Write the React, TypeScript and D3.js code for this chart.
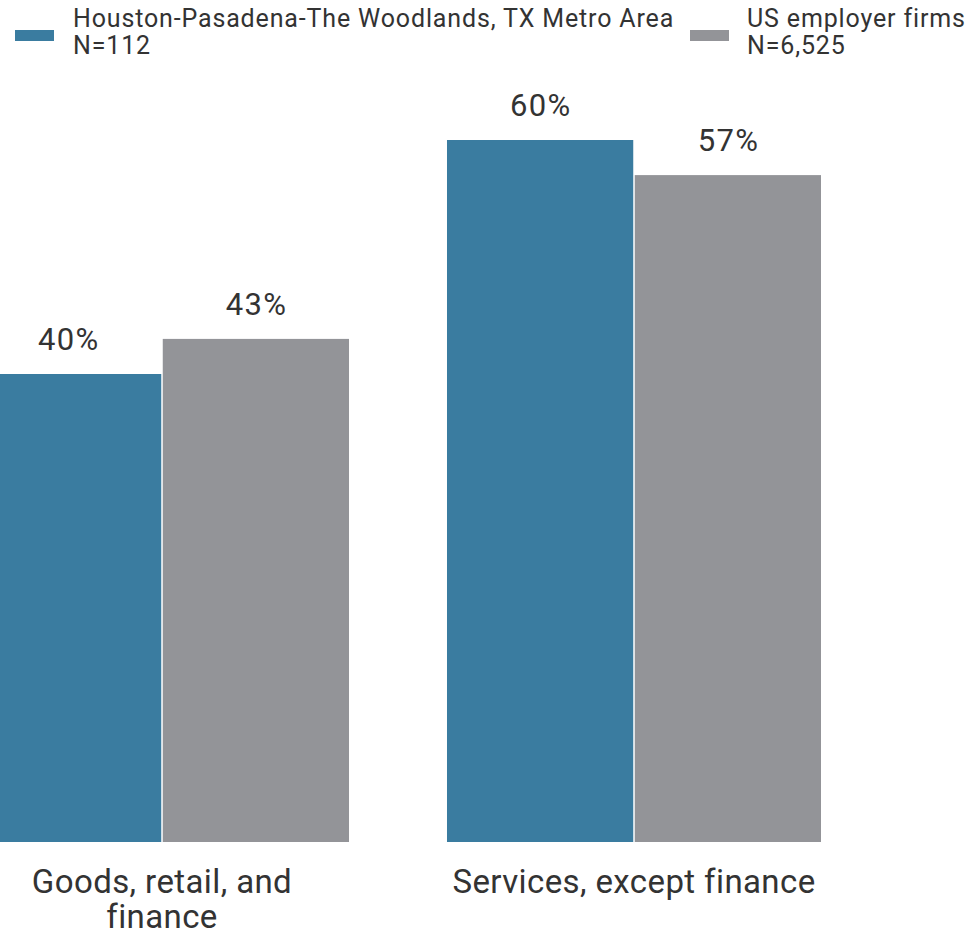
import React from "react";
import * as d3 from "d3";

const categories = ["Goods, retail, and finance", "Services, except finance"];
const categoryLines = [["Goods, retail, and", "finance"], ["Services, except finance"]];
const seriesNames = ["Houston-Pasadena-The Woodlands, TX Metro Area", "US employer firms"];
const seriesN = ["N=112", "N=6,525"];
const houstonValues = [40, 60];
const usValues = [43, 57];
const colors = ["#3a7ca0", "#939498"];

const W = 971;
const H = 933;
const baseline = 842;
const font = "Roboto, 'Noto Sans', sans-serif";
const textColor = "#333333";

export default function App() {
  const x0 = d3.scaleBand<string>().domain(categories).range([-25, 821]).paddingInner(0.2076).paddingOuter(0);
  const x1 = d3.scaleBand<string>().domain(seriesNames).range([0, x0.bandwidth()]).paddingInner(0.008);
  const y = d3.scaleLinear().domain([0, 60]).range([baseline, 140]);
  const series = [houstonValues, usValues];

  return (
    <svg width={W} height={H} style={{ display: "block", position: "absolute", left: 0, top: 0 }} fontFamily={font}>
      <rect x={0} y={0} width={W} height={H} fill="#ffffff" />
      {categories.map((c, ci) => (
        <g key={c} transform={`translate(${x0(c)},0)`}>
          {seriesNames.map((s, si) => {
            const v = series[si][ci];
            const bx = x1(s)!;
            const bw = x1.bandwidth();
            return (
              <g key={s}>
                <rect x={bx} y={y(v)} width={bw} height={baseline - y(v)} fill={colors[si]} />
                <text x={bx + bw / 2 + 0.7} y={y(v) - 24} textAnchor="middle" fontSize={31} letterSpacing={1.3} fill={textColor}>
                  {`${v}%`}
                </text>
              </g>
            );
          })}
          <text x={x0.bandwidth() / 2} y={893} textAnchor="middle" fontSize={33} letterSpacing={0.4} fill={textColor}>
            {categoryLines[ci].map((ln, li) => (
              <tspan key={li} x={x0.bandwidth() / 2} dy={li === 0 ? 0 : 35}>
                {ln}
              </tspan>
            ))}
          </text>
        </g>
      ))}
      {[
        { sx: 15, tx: 73 },
        { sx: 690, tx: 747 },
      ].map((p, i) => (
        <g key={i}>
          <rect x={p.sx} y={30} width={39} height={11} fill={colors[i]} />
          <text x={p.tx} y={27} fontSize={25} letterSpacing={0.85} fill={textColor}>
            {seriesNames[i]}
          </text>
          <text x={p.tx} y={54} fontSize={25} letterSpacing={0.85} fill={textColor}>
            {seriesN[i]}
          </text>
        </g>
      ))}
    </svg>
  );
}
